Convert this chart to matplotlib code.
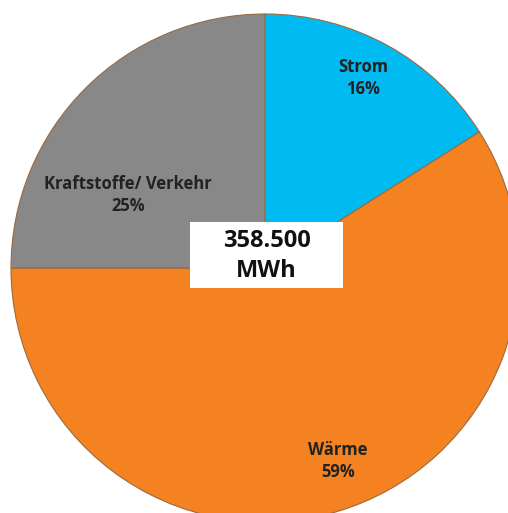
import matplotlib.pyplot as plt
from matplotlib.patches import Rectangle

# energy consumption split
categories = ['Strom', 'Wärme', 'Kraftstoffe/ Verkehr']
shares = [16, 59, 25]
colors = ['#00BAF2', '#F58220', '#888888']
total_label = '358.500\nMWh'

W, H = 508, 513
fig = plt.figure(figsize=(W / 100, H / 100), dpi=100)
ax = fig.add_axes([0, 0, 1, 1])

cx, cy, r = 265, H - 268, 254
wedges, _ = ax.pie(shares, colors=colors, startangle=90, counterclock=False,
                   center=(cx, cy), radius=r, frame=True,
                   wedgeprops=dict(edgecolor='#9a6a40', linewidth=0.8))
ax.set_xlim(0, W)
ax.set_ylim(0, H)
ax.set_aspect('equal')
ax.axis('off')

font = ['Open Sans', 'DejaVu Sans']
label_pos = [(363, 78), (338, 461), (128, 195)]
for name, val, (x, y) in zip(categories, shares, label_pos):
    ax.text(x, H - y, f'{name}\n{val}%', ha='center', va='center',
            fontsize=12, fontweight='bold', color='#222222', family=font,
            linespacing=1.3)

# white box in the middle with the total
ax.add_patch(Rectangle((190, H - 288), 153, 66, facecolor='white',
                       edgecolor='none', zorder=5))
ax.text(266.5, H - 256, total_label, ha='center', va='center', fontsize=17,
        fontweight='bold', color='#111111', family=font, zorder=6,
        linespacing=1.3)

fig.savefig('out.png', dpi=100)
